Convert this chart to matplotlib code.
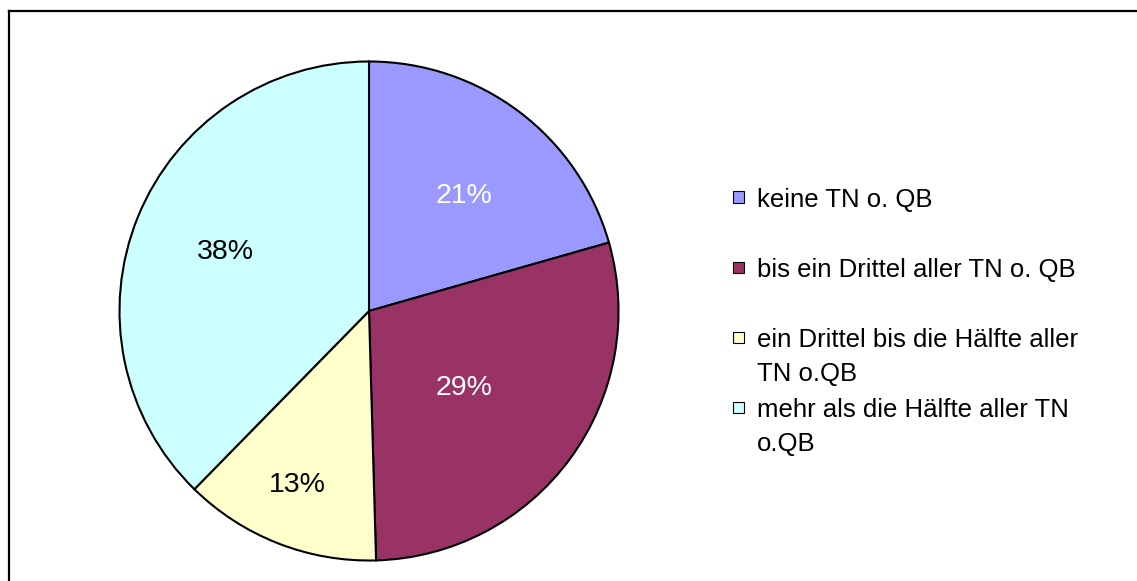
import numpy as np
import matplotlib
matplotlib.use("Agg")
import matplotlib.pyplot as plt
from matplotlib.patches import Rectangle
from matplotlib.lines import Line2D

plt.rcParams['font.family'] = ['Liberation Sans', 'DejaVu Sans']

# data
labels = ['keine TN o. QB',
          'bis ein Drittel aller TN o. QB',
          'ein Drittel bis die Hälfte aller\nTN o.QB',
          'mehr als die Hälfte aller TN\no.QB']
shares = [20.6, 29.0, 12.8, 37.7]
colors = ['#9999FF', '#993366', '#FFFFCC', '#CCFFFF']
pct_colors = ['white', 'white', 'black', 'black']
pct_dist = [0.61, 0.48, 0.74, 0.63]

W, H = 1137, 581
fig = plt.figure(figsize=(W / 100, H / 100), dpi=100)

def fx(x):
    return x / W

def fy(y):
    return 1 - y / H

# pie area: centre (369, 311), radius 252 px
cx, cy, r = 369, 311, 252
ax = fig.add_axes([fx(cx - r), fy(cy + r), 2 * r / W, 2 * r / H])
wedges, _, autotexts = ax.pie(shares, colors=colors, startangle=90, counterclock=False,
                              autopct='%.0f%%', radius=1,
                              wedgeprops=dict(edgecolor='black', linewidth=1.5),
                              textprops=dict(fontsize=20.5))
for w, t, d, c in zip(wedges, autotexts, pct_dist, pct_colors):
    mid = np.deg2rad((w.theta1 + w.theta2) / 2 - 1.5)
    t.set_position((d * np.cos(mid), d * np.sin(mid) - 0.015))
    t.set_color(c)
ax.set_xlim(-1.01, 1.01)
ax.set_ylim(-1.01, 1.01)
ax.set_aspect('equal')
ax.axis('off')

# legend, Excel style: equal slots, marker on first line
lx, ly, slot, sq = 733, 197, 70, 11
for i, (lab, col) in enumerate(zip(labels, colors)):
    y = ly + i * slot
    fig.add_artist(Rectangle((fx(lx), fy(y + sq / 2)), sq / W, sq / H,
                             facecolor=col, edgecolor='black', linewidth=0.8,
                             transform=fig.transFigure))
    fig.text(fx(757), fy(y - 9), lab, fontsize=18.5, va='top', ha='left',
             linespacing=1.55)

# chart frame (only top and left edges visible)
fig.add_artist(Line2D([fx(9), fx(9)], [0, fy(11)], color='black', linewidth=1.6,
                      transform=fig.transFigure))
fig.add_artist(Line2D([fx(9), 1], [fy(11), fy(11)], color='black', linewidth=1.6,
                      transform=fig.transFigure))

fig.savefig('out.png', dpi=100)
